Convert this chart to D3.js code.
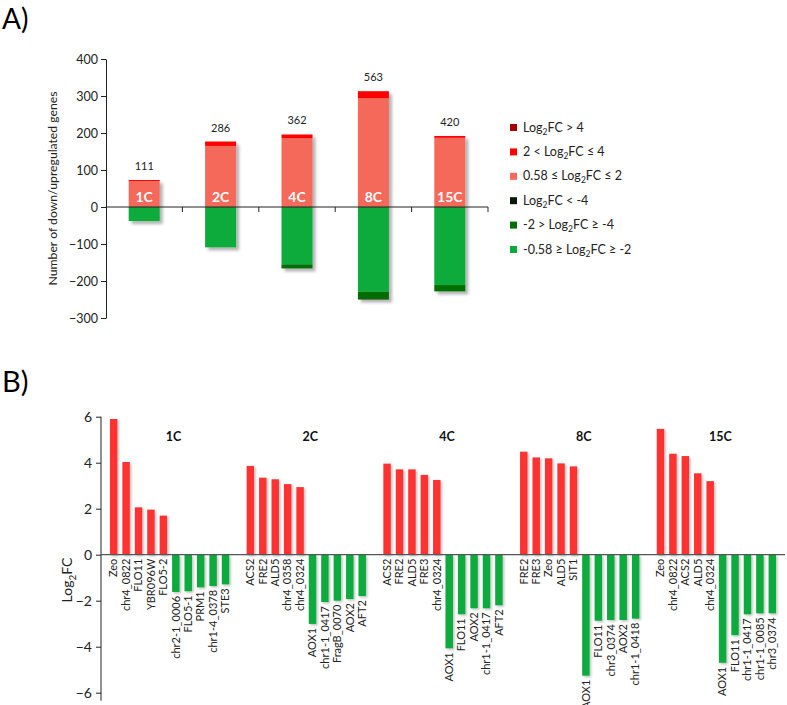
<!DOCTYPE html>
<html><head><meta charset="utf-8">
<script src="https://cdn.jsdelivr.net/npm/d3@7"></script>
<style>body{margin:0;background:#fff}svg{display:block;font-family:Lato,"Open Sans",sans-serif}</style>
</head><body><svg id="c" width="787" height="705"></svg>
<script>
// ---------- Panel A data ----------
const categoriesA = ["1C","2C","4C","8C","15C"];
const totalsA = [111,286,362,563,420];
const upGt4 = [0,0,0,0,0];          // Log2FC > 4
const up2to4 = [3,12,10,19,5];      // 2 < Log2FC <= 4
const up058to2 = [70,165,186,294,187]; // 0.58 <= Log2FC <= 2
const downLtm4 = [0,0,0,1,0];       // Log2FC < -4
const downm2tom4 = [0,0,11,20,17];  // -2 > Log2FC >= -4
const downm058tom2 = [38,109,155,229,211]; // -0.58 >= Log2FC >= -2
const ticksA = [400,300,200,100,0,-100,-200,-300];
const legendPrefix = ["","2 < ","0.58 \u2264 ","","-2 > ","-0.58 \u2265 "];
const legendSuffix = [" > 4"," \u2264 4"," \u2264 2"," < -4"," \u2265 -4"," \u2265 -2"];
const colorsA = ["#A50000","#FF0000","#F4695A","#0A160A","#006E00","#0AAB3A"];

// ---------- Panel B data ----------
const groupsB = ["1C","2C","4C","8C","15C"];
const genes1C = ["Zeo","chr4_0822","FLO11","YBR096W","FLO5-2","chr2-1_0006","FLO5-1","PRM1","chr1-4_0378","STE3"];
const fc1C = [5.9,4.03,2.06,1.96,1.7,-1.62,-1.59,-1.42,-1.36,-1.29];
const genes2C = ["ACS2","FRE2","ALD5","chr4_0358","chr4_0324","AOX1","chr1-1_0417","FragB_0070","AOX2","AFT2"];
const fc2C = [3.86,3.35,3.28,3.07,2.94,-3.01,-2.06,-2.0,-1.93,-1.8];
const genes4C = ["ACS2","FRE2","ALD5","FRE3","chr4_0324","AOX1","FLO11","AOX2","chr1-1_0417","AFT2"];
const fc4C = [3.96,3.71,3.71,3.47,3.25,-4.07,-2.59,-2.33,-2.33,-2.2];
const genes8C = ["FRE2","FRE3","Zeo","ALD5","SIT1","AOX1","FLO11","chr3_0374","AOX2","chr1-1_0418"];
const fc8C = [4.48,4.23,4.19,3.97,3.84,-5.26,-2.87,-2.84,-2.84,-2.78];
const genes15C = ["Zeo","chr4_0822","ACS2","ALD5","chr4_0324","AOX1","FLO11","chr1-1_0417","chr1-1_0085","chr3_0374"];
const fc15C = [5.47,4.39,4.29,3.54,3.2,-4.7,-3.5,-2.59,-2.55,-2.55];
const ticksB = [6,4,2,0,-2,-4,-6];

const svg = d3.select("#c");
const defs = svg.append("defs");
const f = defs.append("filter").attr("id","sh").attr("x","-20%").attr("y","-20%").attr("width","160%").attr("height","160%");
f.append("feDropShadow").attr("dx",3).attr("dy",3).attr("stdDeviation",1.6).attr("flood-color","#000").attr("flood-opacity",0.3);
const f2 = defs.append("filter").attr("id","sh2").attr("x","-30%").attr("y","-10%").attr("width","180%").attr("height","130%");
f2.append("feDropShadow").attr("dx",1.5).attr("dy",1.5).attr("stdDeviation",1).attr("flood-color","#000").attr("flood-opacity",0.25);

// Panel letters
svg.append("text").attr("x",2).attr("y",29).attr("font-size",28).attr("fill","#000").text("A)");
svg.append("text").attr("x",2).attr("y",392).attr("font-size",29).attr("fill","#000").text("B)");

// ================= Panel A =================
const xA = d3.scaleBand().domain(categoriesA).range([106,488]).paddingInner(0.594).paddingOuter(0.297);
const yA = d3.scaleLinear().domain([-300,400]).range([318,59]);

const gA = svg.append("g");
const yAxisA = d3.axisLeft(yA).tickValues(ticksA).tickSize(5).tickSizeOuter(0);
const gy = gA.append("g").attr("transform","translate(106,0)").call(yAxisA);
gy.select(".domain").attr("stroke","#222");
gy.selectAll(".tick line").attr("stroke","#222");
gy.selectAll(".tick text").attr("font-size",12.5).attr("fill","#222").attr("font-family","Lato,'Open Sans',sans-serif").attr("x",-8);

gA.append("text").attr("transform",`translate(57,${(yA(400)+yA(-300))/2}) rotate(-90)`)
  .attr("text-anchor","middle").attr("font-size",12.2).attr("fill","#222")
  .text("Number of down/upregulated genes");

// stacked bars
const barsA = gA.append("g").attr("filter","url(#sh)");
categoriesA.forEach((c,i)=>{
  const pos = [[up058to2[i],colorsA[2]],[up2to4[i],colorsA[1]],[upGt4[i],colorsA[0]]];
  const neg = [[downm058tom2[i],colorsA[5]],[downm2tom4[i],colorsA[4]],[downLtm4[i],colorsA[3]]];
  let acc = 0;
  pos.forEach(([v,col])=>{ if(v>0){ barsA.append("rect").attr("x",xA(c)).attr("width",xA.bandwidth())
      .attr("y",yA(acc+v)).attr("height",yA(acc)-yA(acc+v)).attr("fill",col);} acc+=v; });
  acc = 0;
  neg.forEach(([v,col])=>{ if(v>0){ barsA.append("rect").attr("x",xA(c)).attr("width",xA.bandwidth())
      .attr("y",yA(-acc)).attr("height",yA(-acc-v)-yA(-acc)).attr("fill",col);} acc+=v; });
});
// x axis line and ticks
gA.append("line").attr("x1",xA.range()[0]).attr("x2",xA.range()[1]).attr("y1",yA(0)).attr("y2",yA(0)).attr("stroke","#222");
categoriesA.forEach((c,i)=>{
  const bx = xA.range()[0] + (i+1)*xA.step();
  gA.append("line").attr("x1",bx).attr("x2",bx).attr("y1",yA(0)).attr("y2",yA(0)+5).attr("stroke","#222");
});
// labels
categoriesA.forEach((c,i)=>{
  const cx = xA(c)+xA.bandwidth()/2;
  const top = up058to2[i]+up2to4[i]+upGt4[i];
  gA.append("text").attr("x",cx).attr("y",yA(top)-10).attr("text-anchor","middle").attr("font-size",11).attr("fill","#222").text(totalsA[i]);
  gA.append("text").attr("x",cx).attr("y",yA(0)-5).attr("text-anchor","middle").attr("font-size",14).attr("font-weight","bold").attr("fill","#fff").text(c);
});
// legend
const lg = gA.append("g");
legendPrefix.forEach((p,i)=>{
  const y = 127 + i*24.4;
  lg.append("rect").attr("x",510).attr("y",y-3).attr("width",7).attr("height",7).attr("fill",colorsA[i]);
  const t = lg.append("text").attr("x",523).attr("y",y+4.5).attr("font-size",12.5).attr("fill","#222");
  t.append("tspan").text(p+"Log");
  t.append("tspan").attr("font-size",8.5).attr("dy",3).text("2");
  t.append("tspan").attr("dy",-3).text("FC"+legendSuffix[i]);
});

// ================= Panel B =================
const geneLists = [genes1C,genes2C,genes4C,genes8C,genes15C];
const fcLists = [fc1C,fc2C,fc4C,fc8C,fc15C];
const slots = [];
groupsB.forEach((g,gi)=>{
  if(gi>0) slots.push({key:"gap"+gi, gap:true});
  geneLists[gi].forEach((name,j)=>slots.push({key:g+"|"+j, name, v:fcLists[gi][j], group:g}));
});
const xB = d3.scaleBand().domain(slots.map(s=>s.key)).range([101,785]).paddingInner(0.4).paddingOuter(0.72);
const yB = d3.scaleLinear().domain([-6,6]).range([692.7,416.7]);

const gB = svg.append("g");
const yAxisB = d3.axisLeft(yB).tickValues(ticksB).tickSize(5).tickSizeOuter(0).tickFormat(d3.format("d"));
const gyb = gB.append("g").attr("transform","translate(101,0)").call(yAxisB);
gyb.select(".domain").attr("stroke","#222").attr("d",`M0,${yB(6)}V${yB(-6)+8}`);
gyb.selectAll(".tick line").attr("stroke","#222");
gyb.selectAll(".tick text").attr("font-size",14).attr("fill","#222").attr("font-family","Lato,'Open Sans',sans-serif").attr("x",-9);

const lt = gB.append("text").attr("transform",`translate(72,${yB(-1.1)}) rotate(-90)`).attr("text-anchor","middle").attr("font-size",14).attr("fill","#222");
lt.append("tspan").text("Log");
lt.append("tspan").attr("font-size",10).attr("dy",4).text("2");
lt.append("tspan").attr("dy",-4).text("FC");

const barsB = gB.append("g").attr("filter","url(#sh2)");
slots.filter(s=>!s.gap).forEach(s=>{
  barsB.append("rect").attr("x",xB(s.key)).attr("width",xB.bandwidth())
    .attr("y",yB(Math.max(0,s.v))).attr("height",Math.abs(yB(s.v)-yB(0)))
    .attr("fill", s.v>0 ? "#FF3333" : "#0CAA3C");
});
gB.append("line").attr("x1",101).attr("x2",785).attr("y1",yB(0)).attr("y2",yB(0)).attr("stroke","#555").attr("stroke-width",1.2);

slots.filter(s=>!s.gap).forEach(s=>{
  const cx = xB(s.key)+xB.bandwidth()/2 + 3.8;
  const y0 = (s.v>0 ? yB(0) : yB(s.v)) + 4;
  gB.append("text").attr("transform",`translate(${cx},${y0}) rotate(-90)`).attr("text-anchor","end")
    .attr("font-size",11).attr("fill","#222").text(s.name);
});
groupsB.forEach((g,gi)=>{
  const first = xB(g+"|0"), last = xB(g+"|9")+xB.bandwidth();
  gB.append("text").attr("x",(first+last)/2+4).attr("y",441).attr("text-anchor","middle")
    .attr("font-size",12.5).attr("font-weight","bold").attr("fill","#111").text(g);
});
</script></body></html>
